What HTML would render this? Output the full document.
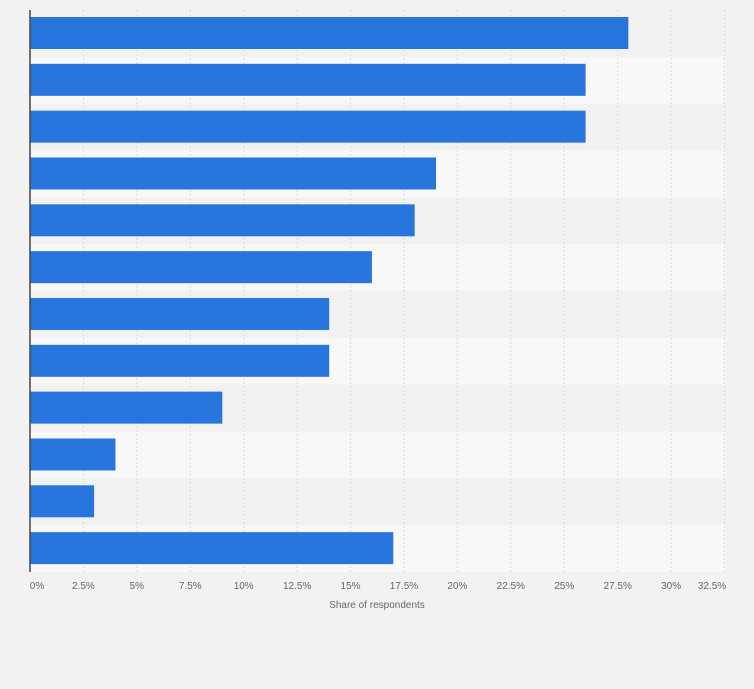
<!DOCTYPE html>
<html><head><style>
body{margin:0;background:#f2f2f2;}
svg{display:block;font-family:"Liberation Sans",sans-serif;}
</style></head><body>
<svg width="754" height="689" xmlns="http://www.w3.org/2000/svg">
<rect width="754" height="689" fill="#f2f2f2"/>
<g fill="#f8f8f8">
<rect x="30" y="56.83" width="696" height="46.83"/>
<rect x="30" y="150.49" width="696" height="46.83"/>
<rect x="30" y="244.15" width="696" height="46.83"/>
<rect x="30" y="337.81" width="696" height="46.83"/>
<rect x="30" y="431.47" width="696" height="46.83"/>
<rect x="30" y="525.13" width="696" height="46.87"/>
</g>
<g stroke="#dcdcdc" stroke-dasharray="2,2">
<line x1="83.43" y1="10" x2="83.43" y2="572"/>
<line x1="136.85" y1="10" x2="136.85" y2="572"/>
<line x1="190.28" y1="10" x2="190.28" y2="572"/>
<line x1="243.7" y1="10" x2="243.7" y2="572"/>
<line x1="297.13" y1="10" x2="297.13" y2="572"/>
<line x1="350.55" y1="10" x2="350.55" y2="572"/>
<line x1="403.98" y1="10" x2="403.98" y2="572"/>
<line x1="457.4" y1="10" x2="457.4" y2="572"/>
<line x1="510.83" y1="10" x2="510.83" y2="572"/>
<line x1="564.25" y1="10" x2="564.25" y2="572"/>
<line x1="617.68" y1="10" x2="617.68" y2="572"/>
<line x1="671.1" y1="10" x2="671.1" y2="572"/>
<line x1="724.53" y1="10" x2="724.53" y2="572"/>
</g>
<g fill="#2876dd">
<rect x="30" y="17" width="598.36" height="32"/>
<rect x="30" y="63.83" width="555.62" height="32"/>
<rect x="30" y="110.66" width="555.62" height="32"/>
<rect x="30" y="157.49" width="406.03" height="32"/>
<rect x="30" y="204.32" width="384.66" height="32"/>
<rect x="30" y="251.15" width="341.92" height="32"/>
<rect x="30" y="297.98" width="299.18" height="32"/>
<rect x="30" y="344.81" width="299.18" height="32"/>
<rect x="30" y="391.64" width="192.33" height="32"/>
<rect x="30" y="438.47" width="85.48" height="32"/>
<rect x="30" y="485.3" width="64.11" height="32"/>
<rect x="30" y="532.13" width="363.29" height="32"/>
</g>
<line x1="30" y1="10" x2="30" y2="572" stroke="#444" stroke-width="1.5"/>
<g font-size="10" fill="#666" text-anchor="middle">
<text x="37" y="589">0%</text>
<text x="83.43" y="589">2.5%</text>
<text x="136.85" y="589">5%</text>
<text x="190.28" y="589">7.5%</text>
<text x="243.7" y="589">10%</text>
<text x="297.13" y="589">12.5%</text>
<text x="350.55" y="589">15%</text>
<text x="403.98" y="589">17.5%</text>
<text x="457.4" y="589">20%</text>
<text x="510.83" y="589">22.5%</text>
<text x="564.25" y="589">25%</text>
<text x="617.68" y="589">27.5%</text>
<text x="671.1" y="589">30%</text>
<text x="712" y="589">32.5%</text>
<text x="377" y="608">Share of respondents</text>
</g>
</svg>
</body></html>
